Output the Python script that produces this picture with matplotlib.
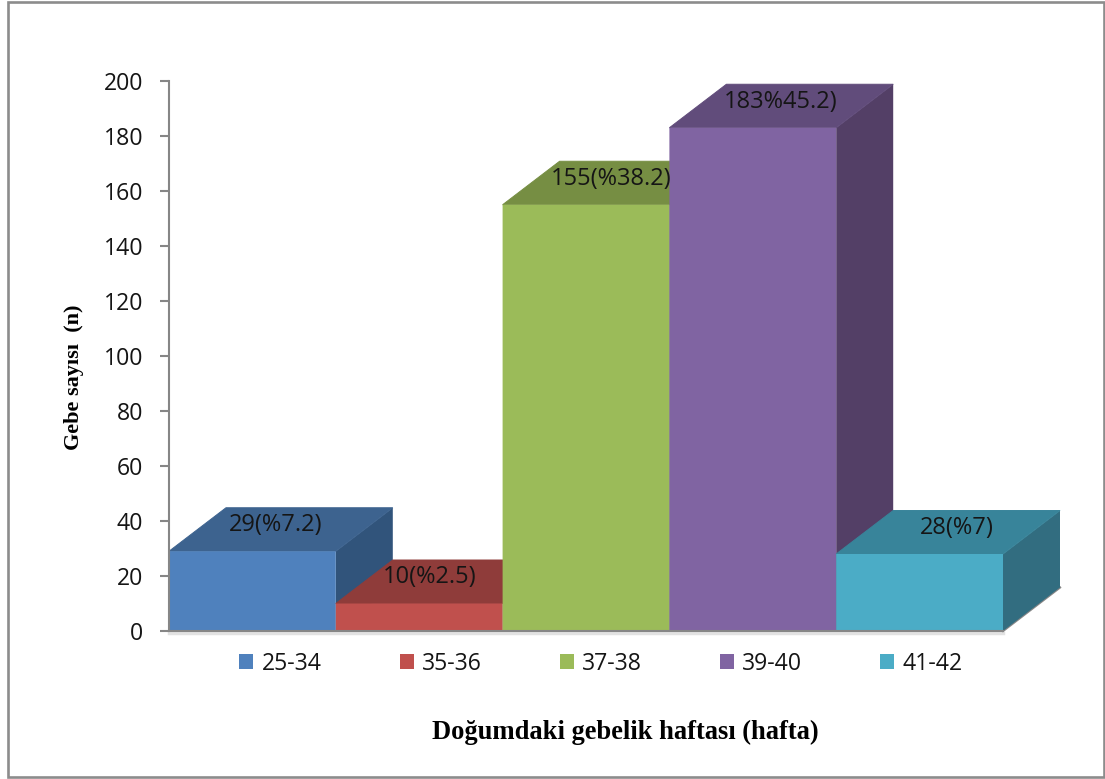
import matplotlib
matplotlib.use("Agg")
import matplotlib.pyplot as plt
from matplotlib.patches import Polygon, Rectangle

# Values
categories = ["25-34", "35-36", "37-38", "39-40", "41-42"]
counts = [29, 10, 155, 183, 28]
bar_labels = ["29(%7.2)", "10(%2.5)", "155(%38.2)", "183%45.2)", "28(%7)"]
y_ticks = list(range(0, 201, 20))

# Styling
front_colors = ["#4F81BD", "#C0504D", "#9BBB59", "#8064A2", "#4BACC6"]
top_colors = ["#3D638F", "#8F3C3A", "#768E43", "#614C7B", "#38849A"]
side_colors = ["#31547B", "#7A3331", "#647A39", "#533F66", "#326D80"]
label_shift = [0.14, 0.06, 0.15, 0.165, 0.225]
GRAY = "#868686"
TICK_FONT = "Open Sans"
TITLE_FONT = "Liberation Serif"

W, H = 1105, 779
LEFT, RIGHT, BASE, TOP = 169, 1003, 631, 81

fig = plt.figure(figsize=(W / 100, H / 100), dpi=100, facecolor="white")
fig.add_artist(Rectangle((7.5 / W, 2.5 / H), 1096 / W, 775 / H, transform=fig.transFigure,
                         fill=False, edgecolor="#8C8C8C", linewidth=1.9))

ax = fig.add_axes([LEFT / W, (H - BASE) / H, (RIGHT - LEFT) / W, (BASE - TOP) / H])
ax.set_xlim(0, len(counts))
ax.set_ylim(0, 200)
ax.patch.set_alpha(0)

# Oblique depth of the extruded bars, in data units
dx = 57 / ((RIGHT - LEFT) / len(counts))
dy = 43.5 / ((BASE - TOP) / 200)

# Floor edge below the last bar, with a pale shadow under the base line
n = len(counts)
ax.plot([0, n], [-0.9, -0.9], color="#E2E2E2", lw=2.5, clip_on=False, zorder=0.5)
ax.plot([n, n + dx], [0, dy], color=GRAY, lw=1.6, clip_on=False, zorder=0.5)

for i, value in enumerate(counts):
    x0, x1 = i, i + 1
    ax.add_patch(Polygon([(x1, 0), (x1 + dx, dy), (x1 + dx, value + dy), (x1, value)],
                         closed=True, facecolor=side_colors[i], edgecolor="none",
                         clip_on=False, zorder=2 + i))
    # A hairline edge on the top face closes the seam against the front face
    ax.add_patch(Polygon([(x0, value), (x0 + dx, value + dy), (x1 + dx, value + dy), (x1, value)],
                         closed=True, facecolor=top_colors[i], edgecolor=top_colors[i],
                         linewidth=0.7, clip_on=False, zorder=2 + i))
    bars = ax.bar(x0, value, width=1, align="edge", color=front_colors[i], linewidth=0,
                  clip_on=False, zorder=2 + i + 0.5, label=categories[i])
    bars[0].set_snap(False)
    ax.text(x0 + 0.5 + label_shift[i], value + 9.5, bar_labels[i], ha="center", va="center",
            fontsize=17, family=TICK_FONT, color="#151515", zorder=20, clip_on=False)

for side in ("top", "right"):
    ax.spines[side].set_visible(False)
for side in ("left", "bottom"):
    ax.spines[side].set_color(GRAY)
    ax.spines[side].set_linewidth(1.5)
    ax.spines[side].set_zorder(15)

ax.set_xticks([])
ax.set_yticks(y_ticks)
ax.tick_params(axis="y", length=6.5, width=1.5, color=GRAY, pad=12, labelsize=16.6, labelcolor="#151515")
for tick in ax.get_yticklabels():
    tick.set_family(TICK_FONT)

ax.set_ylabel("Gebe sayısı  (n)", family=TITLE_FONT, fontweight="bold", fontsize=16)
ax.yaxis.set_label_coords((84 - LEFT) / (RIGHT - LEFT), (BASE - 377) / (BASE - TOP))
ax.set_xlabel("Doğumdaki gebelik haftası (hafta)", family=TITLE_FONT, fontweight="bold", fontsize=19.1)
ax.xaxis.set_label_coords((625 - LEFT) / (RIGHT - LEFT), -(720 - BASE) / (BASE - TOP))

ax.legend(loc="center", bbox_to_anchor=((601 - LEFT) / (RIGHT - LEFT), -(664 - BASE) / (BASE - TOP)),
          ncol=5, frameon=False, prop={"family": TICK_FONT, "size": 16.6}, labelcolor="#151515",
          handlelength=0.61, handleheight=0.61, handletextpad=0.35, columnspacing=3.39,
          borderpad=0, borderaxespad=0)

fig.savefig("out.png", dpi=100)
